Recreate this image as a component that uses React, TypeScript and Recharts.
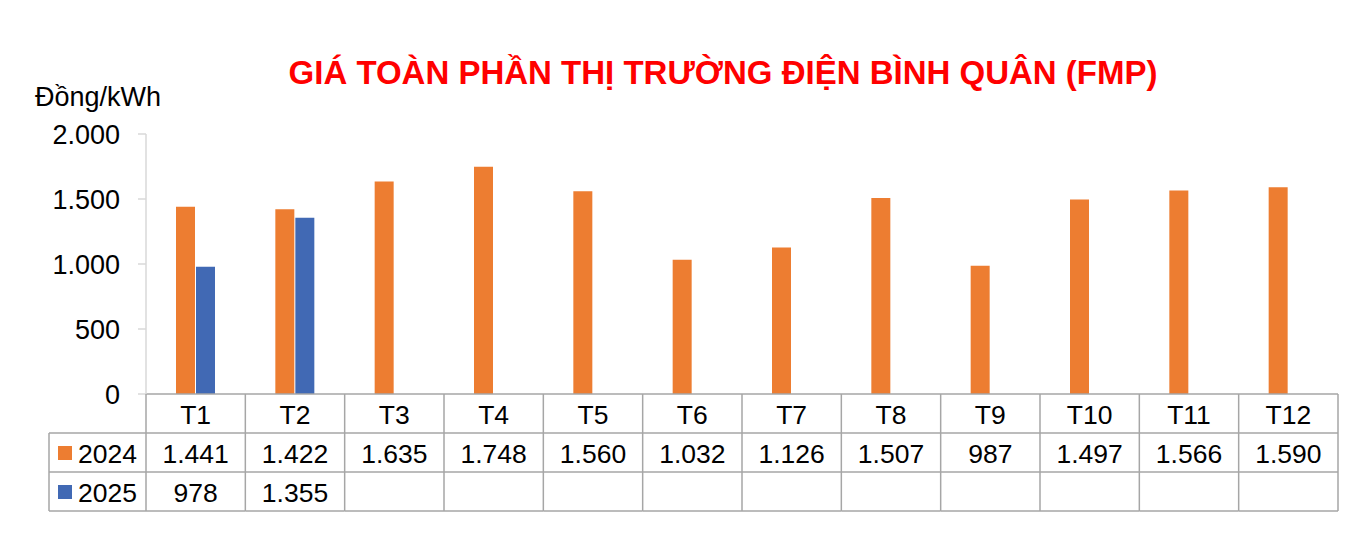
import React from "react";
import { BarChart, Bar, XAxis, YAxis, Customized } from "recharts";

const MONTHS = ["T1", "T2", "T3", "T4", "T5", "T6", "T7", "T8", "T9", "T10", "T11", "T12"];
const FMP_2024 = [1441, 1422, 1635, 1748, 1560, 1032, 1126, 1507, 987, 1497, 1566, 1590];
const FMP_2025: (number | null)[] = [978, 1355, null, null, null, null, null, null, null, null, null, null];
const Y_TICKS = [0, 500, 1000, 1500, 2000];
const SERIES = [
  { key: "y2024", name: "2024", values: FMP_2024, color: "#ED7D31" },
  { key: "y2025", name: "2025", values: FMP_2025, color: "#4169B4" },
];

const data = MONTHS.map((m, i) => ({ month: m, y2024: FMP_2024[i], y2025: FMP_2025[i] }));

const W = 1357;
const H = 556;
const LEFT = 146;
const RIGHT = 19;
const TOP = 134;
const BOTTOM = 162;
const COL_W = (W - LEFT - RIGHT) / MONTHS.length;
const ROW_H = 39;
const TABLE_LEFT = 49;
const FONT = "'Liberation Sans', Arial, sans-serif";
const GRID = "#A6A6A6";
const TABLE_FS = 26.5;

const fmt = (n: number | null) =>
  n == null ? "" : String(n).replace(/\B(?=(\d{3})+(?!\d))/g, ".");

const TableTick = ({ x, y, payload, index }: any) => {
  const left = x - COL_W / 2;
  const right = x + COL_W / 2;
  const i = index ?? MONTHS.indexOf(payload.value);
  return (
    <g>
      {i === 0 && <line x1={left} y1={y} x2={left} y2={y + ROW_H * 3} stroke={GRID} strokeWidth={1.5} />}
      <line x1={right} y1={y} x2={right} y2={y + ROW_H * 3} stroke={GRID} strokeWidth={1.5} />
      <line x1={left} y1={y + ROW_H} x2={right} y2={y + ROW_H} stroke={GRID} strokeWidth={1.5} />
      <line x1={left} y1={y + ROW_H * 2} x2={right} y2={y + ROW_H * 2} stroke={GRID} strokeWidth={1.5} />
      <line x1={left} y1={y + ROW_H * 3} x2={right} y2={y + ROW_H * 3} stroke={GRID} strokeWidth={1.5} />
      <text x={x} y={y + ROW_H / 2 + 1} textAnchor="middle" dominantBaseline="central" fontSize={TABLE_FS} fill="#000" fontFamily={FONT}>
        {payload.value}
      </text>
      {SERIES.map((s, r) => (
        <text key={s.key} x={x} y={y + ROW_H * (r + 1.5) + 1} textAnchor="middle" dominantBaseline="central" fontSize={TABLE_FS} fill="#000" fontFamily={FONT}>
          {fmt(s.values[i])}
        </text>
      ))}
    </g>
  );
};

const LegendColumn = () => {
  const y0 = H - BOTTOM + ROW_H;
  return (
    <g>
      <line x1={TABLE_LEFT} y1={y0} x2={LEFT} y2={y0} stroke={GRID} strokeWidth={1.5} />
      <line x1={TABLE_LEFT} y1={y0 + ROW_H} x2={LEFT} y2={y0 + ROW_H} stroke={GRID} strokeWidth={1.5} />
      <line x1={TABLE_LEFT} y1={y0 + ROW_H * 2} x2={LEFT} y2={y0 + ROW_H * 2} stroke={GRID} strokeWidth={1.5} />
      <line x1={TABLE_LEFT} y1={y0} x2={TABLE_LEFT} y2={y0 + ROW_H * 2} stroke={GRID} strokeWidth={1.5} />
      {SERIES.map((s, r) => (
        <g key={s.key}>
          <rect x={58} y={y0 + ROW_H * r + 13} width={14} height={14} fill={s.color} />
          <text x={78} y={y0 + ROW_H * (r + 0.5) + 1} dominantBaseline="central" fontSize={TABLE_FS} fill="#000" fontFamily={FONT}>
            {s.name}
          </text>
        </g>
      ))}
    </g>
  );
};

export default function App() {
  return (
    <div style={{ position: "absolute", left: 0, top: 0, width: W, height: H, background: "#fff" }}>
      <BarChart
        width={W}
        height={H}
        data={data}
        margin={{ top: TOP, right: RIGHT, left: 0, bottom: 0 }}
        barSize={19}
        barGap={1}
      >
        <text x={723} y={84} textAnchor="middle" fontSize={33} fontWeight="bold" fill="#FF0000" fontFamily={FONT}>
          GIÁ TOÀN PHẦN THỊ TRƯỜNG ĐIỆN BÌNH QUÂN (FMP)
        </text>
        <text x={35} y={106} fontSize={27} fill="#000" fontFamily={FONT}>
          Đồng/kWh
        </text>
        <XAxis
          dataKey="month"
          height={BOTTOM}
          axisLine={{ stroke: GRID, strokeWidth: 1.5 }}
          tickLine={false}
          tickSize={0}
          tickMargin={0}
          interval={0}
          tick={<TableTick />}
        />
        <YAxis
          width={LEFT}
          domain={[0, 2000]}
          ticks={Y_TICKS}
          tickFormatter={fmt}
          axisLine={{ stroke: "#D9D9D9", strokeWidth: 1.5 }}
          tickLine={{ stroke: "#D9D9D9", strokeWidth: 1.5 }}
          tickSize={8}
          tickMargin={18}
          tick={{ fontSize: 27, fill: "#000", fontFamily: FONT }}
        />
        {SERIES.map((s) => (
          <Bar key={s.key} dataKey={s.key} name={s.name} fill={s.color} isAnimationActive={false} />
        ))}
        <Customized component={<LegendColumn />} />
      </BarChart>
    </div>
  );
}
